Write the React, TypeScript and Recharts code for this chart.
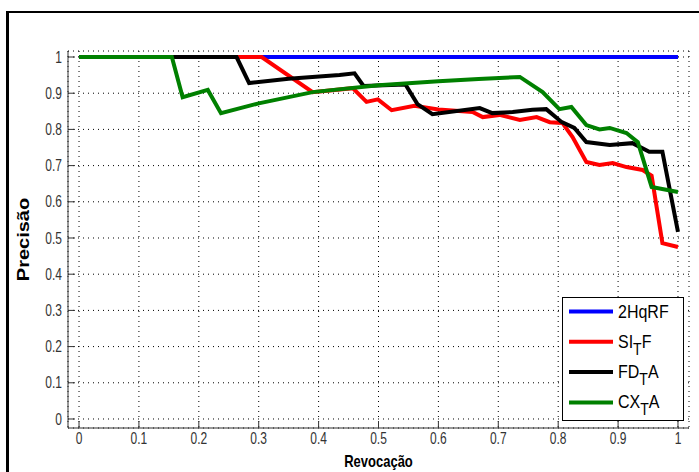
import React from 'react';
import { LineChart, Line, XAxis, YAxis, CartesianGrid, Legend, Label } from 'recharts';

const chartTitle = 'BC-111';
const xLabel = 'Revocação';
const yLabel = 'Precisão';

const xTicks = [0, 0.1, 0.2, 0.3, 0.4, 0.5, 0.6, 0.7, 0.8, 0.9, 1];
const yTicks = [0, 0.1, 0.2, 0.3, 0.4, 0.5, 0.6, 0.7, 0.8, 0.9, 1];

const seriesNames = ['2HqRF', 'SI_TF', 'FD_TA', 'CX_TA'];
const seriesColors = ['#0000ff', '#ff0000', '#000000', '#008000'];

const hqrfRecall = [0, 1];
const hqrfPrecision = [1, 1];

const sitfRecall = [0, 0.305, 0.39, 0.457, 0.48, 0.499, 0.522, 0.56, 0.6, 0.657, 0.674, 0.702, 0.736, 0.764, 0.786, 0.807, 0.824, 0.847, 0.869, 0.891, 0.914, 0.941, 0.956, 0.974, 1.0];
const sitfPrecision = [1, 1, 0.903, 0.914, 0.876, 0.883, 0.853, 0.865, 0.855, 0.848, 0.834, 0.84, 0.826, 0.834, 0.82, 0.818, 0.779, 0.71, 0.702, 0.707, 0.696, 0.688, 0.672, 0.486, 0.475];

const fdtaRecall = [0, 0.263, 0.284, 0.35, 0.435, 0.46, 0.475, 0.545, 0.565, 0.59, 0.669, 0.69, 0.724, 0.757, 0.78, 0.806, 0.827, 0.847, 0.886, 0.924, 0.952, 0.974, 1.0];
const fdtaPrecision = [1, 1, 0.928, 0.94, 0.95, 0.955, 0.92, 0.924, 0.87, 0.842, 0.859, 0.845, 0.848, 0.854, 0.856, 0.82, 0.804, 0.765, 0.757, 0.762, 0.738, 0.738, 0.517];

const cxtaRecall = [0, 0.155, 0.173, 0.215, 0.237, 0.3, 0.39, 0.5, 0.6, 0.667, 0.736, 0.774, 0.802, 0.822, 0.847, 0.869, 0.886, 0.914, 0.933, 0.956, 1.0];
const cxtaPrecision = [1, 1, 0.889, 0.909, 0.845, 0.872, 0.903, 0.922, 0.933, 0.939, 0.945, 0.903, 0.856, 0.862, 0.812, 0.8, 0.804, 0.79, 0.765, 0.641, 0.627];

const toPoints = (xs: number[], ys: number[]) => xs.map((x, i) => ({ x, y: ys[i] }));

const FONT = '"Liberation Sans", Arial, Helvetica, sans-serif';

const XTick = (props: any) => {
  const { x, y, payload } = props;
  return (
    <g transform={`translate(${x},${y})`}>
      <text transform="scale(1,1.3)" textAnchor="middle" dominantBaseline="central" fontSize={12} fontFamily={FONT} fill="#333">
        {payload.value}
      </text>
    </g>
  );
};

const YTick = (props: any) => {
  const { x, y, payload } = props;
  return (
    <g transform={`translate(${x},${y})`}>
      <text transform="scale(1,1.3)" textAnchor="end" dominantBaseline="central" fontSize={12} fontFamily={FONT} fill="#333">
        {payload.value}
      </text>
    </g>
  );
};

const renderXLabel = (props: any) => {
  const vb = props.viewBox || { x: 68, y: 428, width: 621, height: 44 };
  const cx = vb.x + vb.width / 2;
  return (
    <g transform={`translate(${cx},467)`}>
      <text transform="scale(1,1.3)" textAnchor="middle" fontSize={13} fontWeight="bold" fontFamily={FONT} fill="#000">
        {xLabel}
      </text>
    </g>
  );
};

const renderYLabel = (props: any) => {
  const vb = props.viewBox || { x: 0, y: 51, width: 68, height: 377 };
  const cy = vb.y + vb.height / 2;
  return (
    <g transform={`translate(29,${cy}) rotate(-90) scale(1.25,1)`}>
      <text textAnchor="middle" fontSize={16} fontWeight="bold" fontFamily={FONT} fill="#000">
        {yLabel}
      </text>
    </g>
  );
};

const renderTitle = (props: any) => {
  const vb = props.viewBox || { x: 68, y: 51, width: 621, height: 0 };
  const cx = vb.x + vb.width / 2;
  return (
    <g transform={`translate(${cx},38)`}>
      <text transform="scale(1,1.3)" textAnchor="middle" fontSize={13} fontWeight="bold" fontFamily={FONT} fill="#000">
        {chartTitle}
      </text>
    </g>
  );
};

const renderLegend = () => {
  return (
    <svg width={122} height={124} style={{ display: 'block' }}>
      <rect x={0.5} y={0.5} width={121} height={123} fill="#fff" stroke="#000" strokeWidth={1} />
      {seriesNames.map((name, i) => {
        const cy = 14.5 + i * 30.3;
        const parts = name.split('_');
        return (
          <g key={name}>
            <line x1={7} x2={51} y1={cy} y2={cy} stroke={seriesColors[i]} strokeWidth={4} />
            <g transform={`translate(56,${cy + 6})`}>
              <text transform="scale(1,1.15)" fontSize={16} fontFamily={FONT} fill="#000">
                {parts.length === 1 ? (
                  name
                ) : (
                  <>
                    <tspan>{parts[0]}</tspan>
                    <tspan dy={6} fontSize={14}>{parts[1].slice(0, 1)}</tspan>
                    <tspan dy={-6}>{parts[1].slice(1)}</tspan>
                  </>
                )}
              </text>
            </g>
          </g>
        );
      })}
    </svg>
  );
};

const AXIS = '#333';

const seriesData = [
  toPoints(hqrfRecall, hqrfPrecision),
  toPoints(sitfRecall, sitfPrecision),
  toPoints(fdtaRecall, fdtaPrecision),
  toPoints(cxtaRecall, cxtaPrecision),
];

export default function App() {
  return (
    <div style={{ position: 'absolute', left: 0, top: 0, width: 699, height: 472, background: '#fff', overflow: 'hidden' }}>
      <div
        style={{
          position: 'absolute',
          left: 6,
          top: 11,
          width: 800,
          height: 600,
          borderLeft: '3px solid #000',
          borderTop: '2px solid #000',
        }}
      />
      <div style={{ position: 'absolute', left: 0, top: 0 }}>
        <LineChart width={699} height={472} margin={{ top: 51, right: 10, bottom: 0, left: 0 }}>
          <CartesianGrid stroke="#000" strokeDasharray="1 4" strokeWidth={1} />
          <XAxis
            dataKey="x"
            type="number"
            domain={[-0.0184, 1.0184]}
            ticks={xTicks}
            interval={0}
            height={44}
            tickSize={-7}
            tickMargin={17}
            tick={<XTick />}
            stroke={AXIS}
            axisLine={{ stroke: AXIS }}
            tickLine={{ stroke: AXIS }}
            label={<Label content={renderXLabel} />}
          />
          <XAxis
            xAxisId="top"
            dataKey="x"
            type="number"
            orientation="top"
            domain={[-0.0184, 1.0184]}
            ticks={xTicks}
            interval={0}
            height={0}
            tickSize={-7}
            tick={false}
            stroke={AXIS}
            axisLine={{ stroke: AXIS }}
            tickLine={{ stroke: AXIS }}
            label={<Label content={renderTitle} />}
          />
          <YAxis
            type="number"
            domain={[-0.0249, 1.0166]}
            ticks={yTicks}
            interval={0}
            width={68}
            tickSize={-7}
            tickMargin={13}
            tick={<YTick />}
            stroke={AXIS}
            axisLine={{ stroke: AXIS }}
            tickLine={{ stroke: AXIS }}
            label={<Label content={renderYLabel} />}
          />
          <YAxis
            yAxisId="right"
            type="number"
            orientation="right"
            domain={[-0.0249, 1.0166]}
            ticks={yTicks}
            interval={0}
            width={0}
            tickSize={-7}
            tick={false}
            stroke={AXIS}
            axisLine={{ stroke: AXIS }}
            tickLine={{ stroke: AXIS }}
          />
          <Legend
            layout="vertical"
            align="center"
            verticalAlign="middle"
            content={renderLegend}
            wrapperStyle={{ left: 562, top: 297, width: 122, height: 124 }}
          />
          {seriesNames.map((name, i) => (
            <Line
              key={name}
              name={name}
              data={seriesData[i]}
              dataKey="y"
              stroke={seriesColors[i]}
              strokeWidth={4}
              dot={false}
              isAnimationActive={false}
            />
          ))}
        </LineChart>
      </div>
    </div>
  );
}
